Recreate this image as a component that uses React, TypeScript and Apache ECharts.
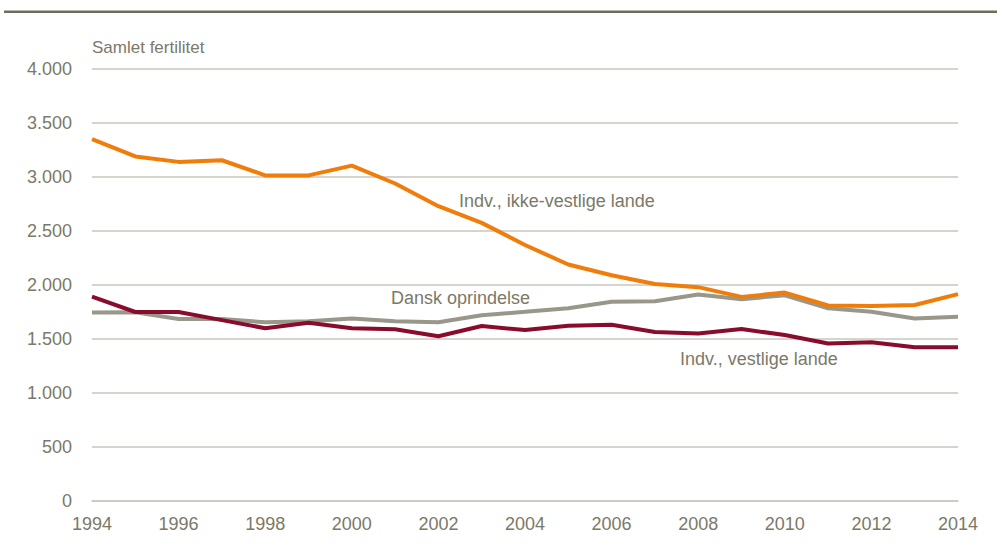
import React, { useEffect, useRef } from "react";
import * as echarts from "echarts";

const years = ["1994","1995","1996","1997","1998","1999","2000","2001","2002","2003","2004","2005","2006","2007","2008","2009","2010","2011","2012","2013","2014"];
const ikkeVestlige = [3350,3190,3140,3155,3015,3015,3105,2940,2730,2575,2370,2190,2090,2010,1980,1890,1930,1810,1805,1815,1915];
const dansk = [1745,1748,1685,1685,1655,1665,1690,1665,1655,1720,1752,1785,1845,1850,1912,1868,1905,1785,1752,1690,1707];
const vestlige = [1892,1750,1750,1675,1600,1650,1600,1590,1525,1620,1583,1622,1632,1565,1550,1592,1537,1458,1470,1423,1423];

const FONT = "'Liberation Sans Narrow', 'Arial Narrow', 'Liberation Sans', sans-serif";
const TXT = "#7b7968";

export default function App() {
  const ref = useRef<HTMLDivElement>(null);
  useEffect(() => {
    document.body.style.margin = "0";
    const chart = echarts.init(ref.current!, null, { renderer: "svg" });
    chart.setOption({
      animation: false,
      grid: { left: 92, right: 39, top: 69, bottom: 44 },
      xAxis: {
        type: "category",
        data: years,
        boundaryGap: false,
        axisLine: { show: true, lineStyle: { color: "#c9c7bd", width: 1.5 } },
        axisTick: { show: false },
        axisLabel: {
          interval: 1,
          color: TXT,
          fontSize: 18,
          fontFamily: FONT,
          margin: 14,
        },
        splitLine: { show: false },
      },
      yAxis: {
        type: "value",
        min: 0,
        max: 4000,
        interval: 500,
        axisLine: { show: false },
        axisTick: { show: false },
        axisLabel: {
          color: TXT,
          fontSize: 18,
          fontFamily: FONT,
          margin: 20,
          formatter: (v: number) => v.toLocaleString("en-US").replace(/,/g, "."),
        },
        splitLine: { lineStyle: { color: "#c9c7bd", width: 1.5 } },
      },
      series: [
        { name: "Dansk oprindelse", type: "line", data: dansk, symbol: "none", lineStyle: { color: "#99978a", width: 4 }, z: 2 },
        { name: "Indv., vestlige lande", type: "line", data: vestlige, symbol: "none", lineStyle: { color: "#8a0c2c", width: 4 }, z: 3 },
        { name: "Indv., ikke-vestlige lande", type: "line", data: ikkeVestlige, symbol: "none", lineStyle: { color: "#f07c0a", width: 4 }, z: 4 },
      ],
      graphic: [
        { type: "rect", shape: { x: 4, y: 10.5, width: 993, height: 2.5 }, style: { fill: "#6e6d5e" } },
        { type: "text", x: 92, y: 47, style: { text: "Samlet fertilitet", fill: TXT, font: `17px ${FONT}`, textVerticalAlign: "middle" } },
        { type: "text", x: 459, y: 201, style: { text: "Indv., ikke-vestlige lande", fill: TXT, font: `18px ${FONT}`, textVerticalAlign: "middle" } },
        { type: "text", x: 391, y: 298, style: { text: "Dansk oprindelse", fill: TXT, font: `18px ${FONT}`, textVerticalAlign: "middle" } },
        { type: "text", x: 680, y: 359, style: { text: "Indv., vestlige lande", fill: TXT, font: `18px ${FONT}`, textVerticalAlign: "middle" } },
      ],
    });
    return () => chart.dispose();
  }, []);
  return <div ref={ref} style={{ width: 997, height: 545 }} />;
}
